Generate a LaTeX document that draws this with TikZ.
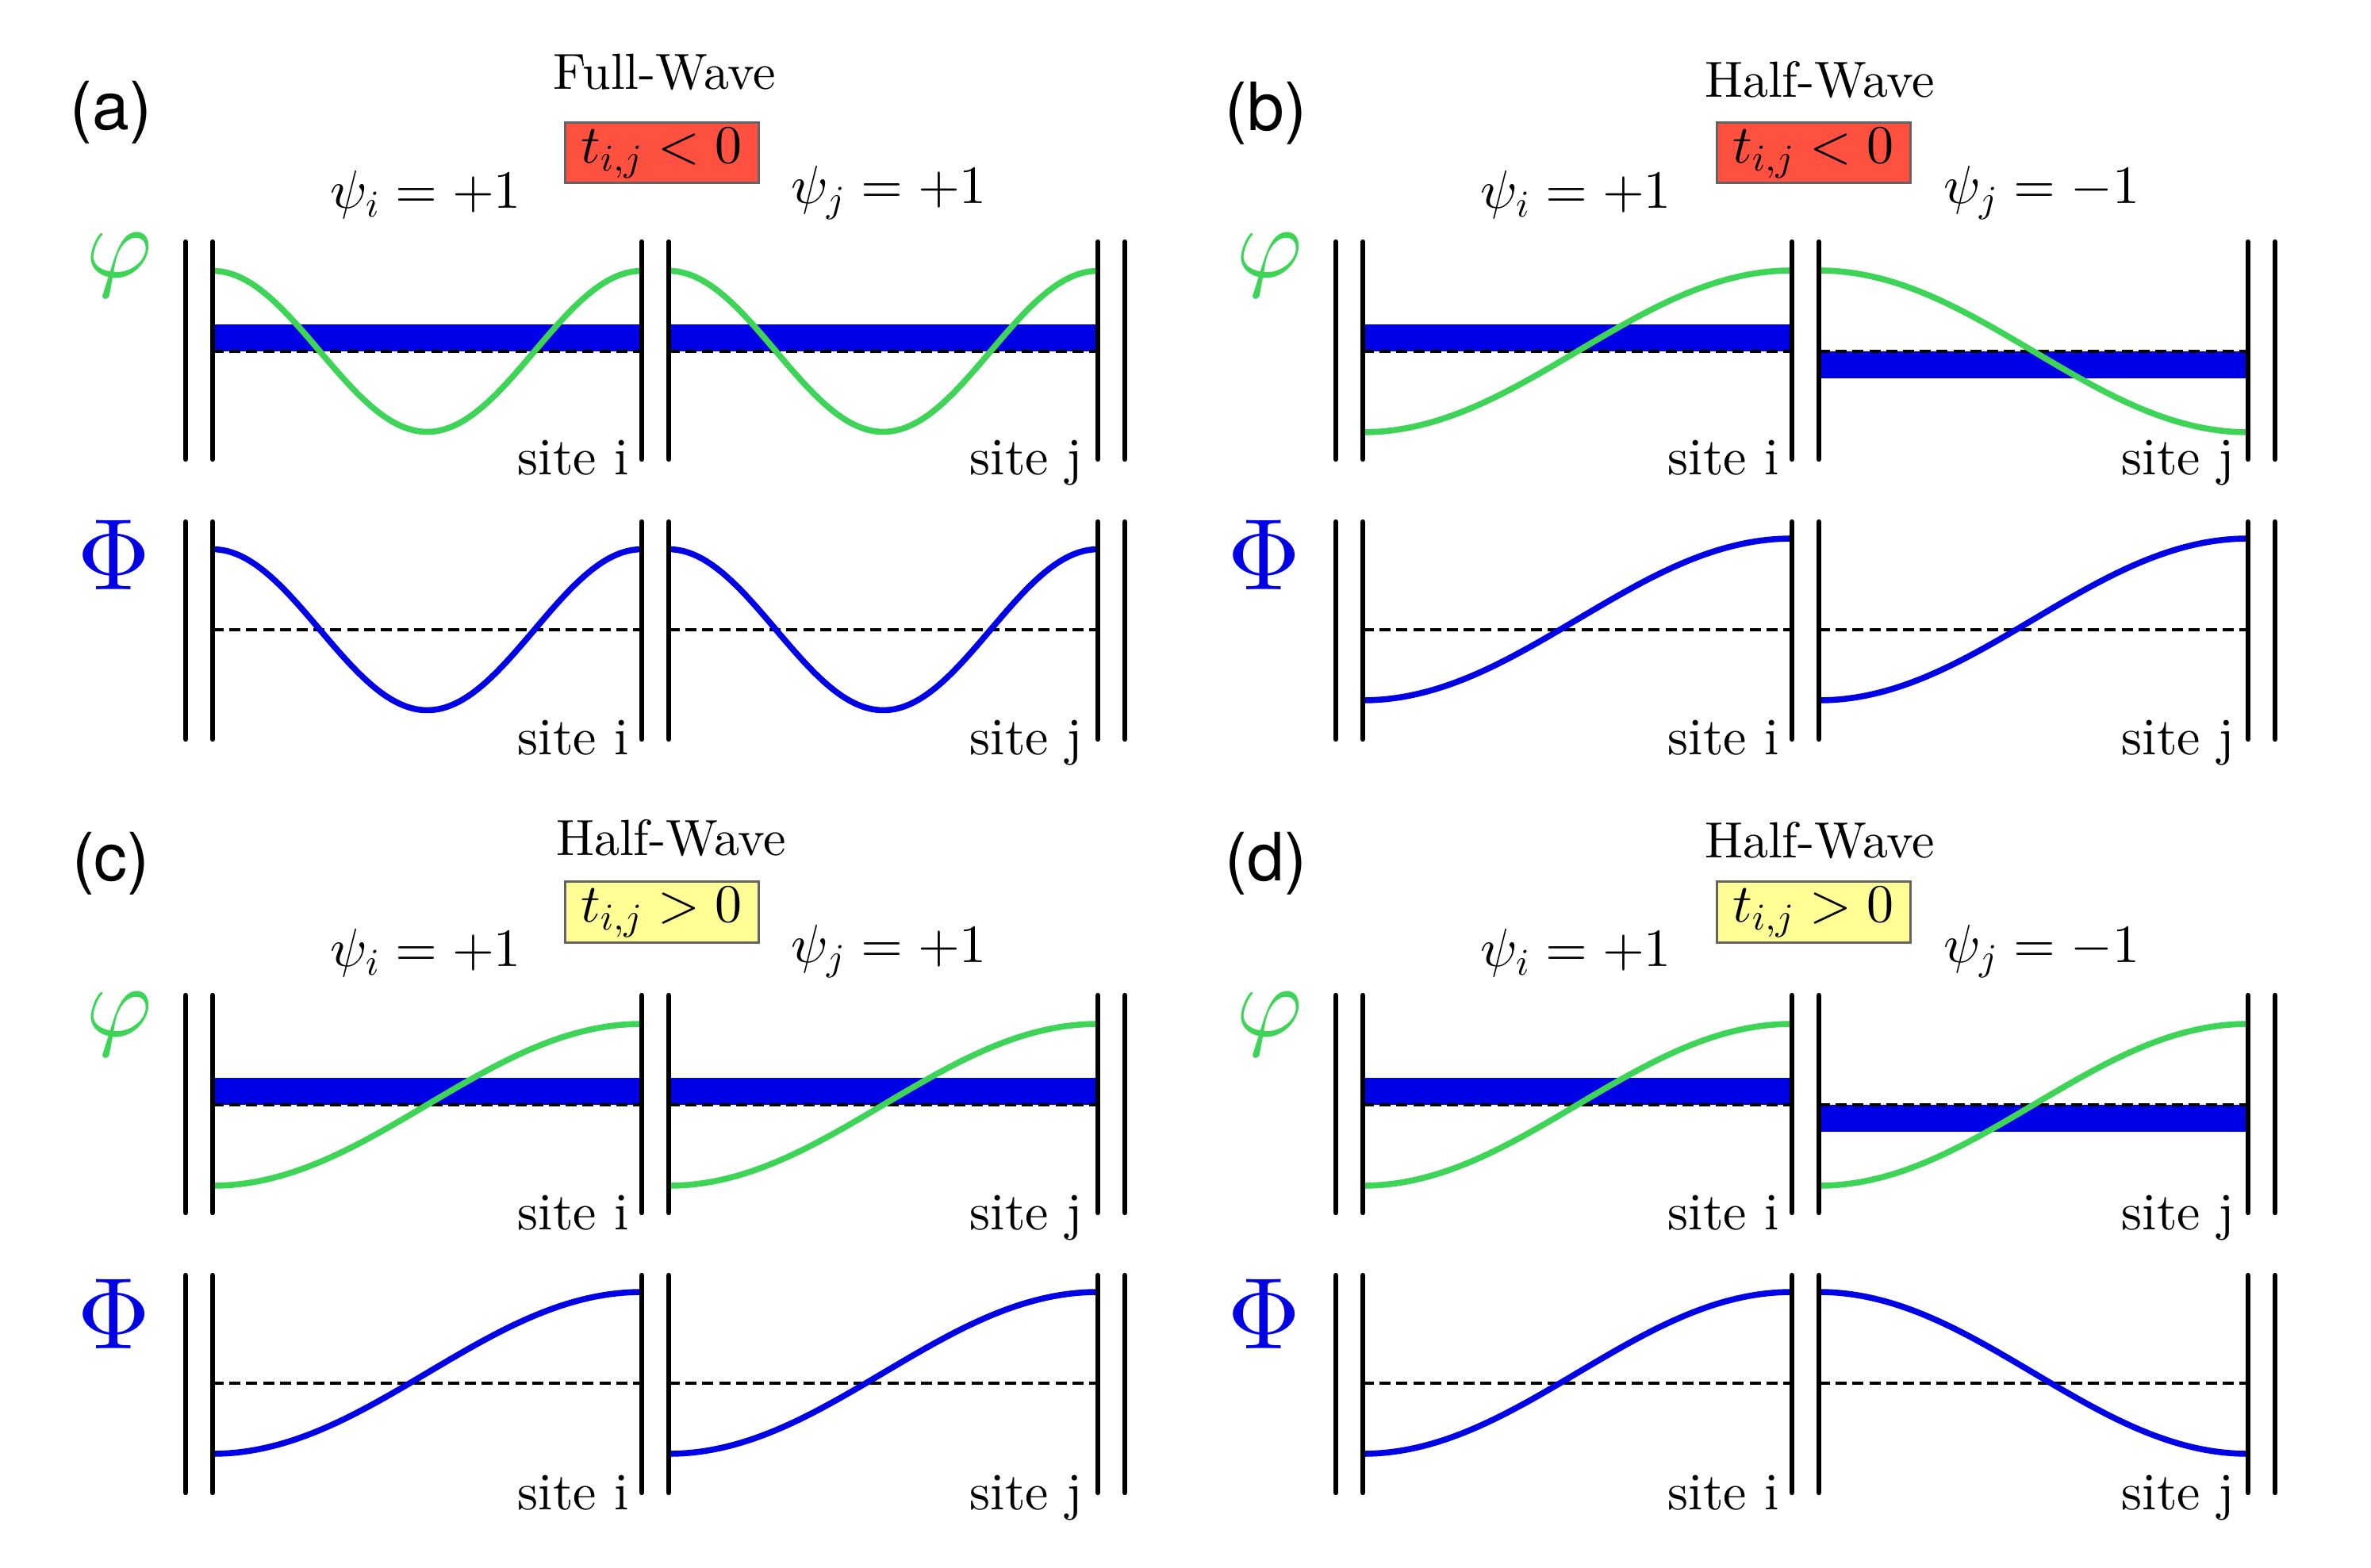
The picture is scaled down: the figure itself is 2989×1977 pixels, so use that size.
\documentclass[tikz,border=0pt]{standalone}
\usepackage{fontspec}
\newfontfamily\panelfont{TeX Gyre Heros}
\newfontfamily\tenrm{lmroman10-regular.otf}
\DeclareFontFamily{OML}{cmm}{\skewchar\font'177}
\DeclareFontShape{OML}{cmm}{m}{it}{<->cmmi10}{}
\DeclareFontFamily{OT1}{cmr}{\hyphenchar\font45}
\DeclareFontShape{OT1}{cmr}{m}{n}{<->cmr10}{}
\DeclareFontFamily{OMS}{cmsy}{\skewchar\font'60}
\DeclareFontShape{OMS}{cmsy}{m}{n}{<->cmsy10}{}
\definecolor{phigreen}{RGB}{62,212,88}
\definecolor{wblue}{RGB}{0,0,230}
\definecolor{boxred}{RGB}{255,80,64}
\definecolor{boxyellow}{RGB}{255,255,150}
\definecolor{boxgray}{RGB}{100,100,100}
\tikzset{
  wall/.style={line width=1.6pt, line cap=round},
  zeroline/.style={line width=1.1pt, dash pattern=on 3.5pt off 1.8pt},
  greencurve/.style={draw=phigreen, line width=1.9pt},
  bluecurve/.style={draw=wblue, line width=1.9pt},
  band/.style={fill=wblue, draw=none},
  titlelbl/.style={font=\tenrm\fontsize{16}{19}\selectfont, anchor=base, inner sep=0pt},
  mathlbl/.style={font=\fontsize{17}{20}\selectfont, anchor=base, inner sep=0pt},
  sitelbl/.style={font=\tenrm\fontsize{16.5}{20}\selectfont, anchor=base west, inner sep=0pt},
  panellbl/.style={font=\panelfont\fontsize{21}{25}\selectfont, inner sep=0pt},
  fieldlbl/.style={font=\fontsize{32}{38}\selectfont, anchor=base, inner sep=0pt},
  tbox/.style={draw=boxgray, line width=0.75pt, minimum width=61pt, minimum height=19pt, inner sep=0pt, font=\fontsize{17}{20}\selectfont},
}
\newcommand\wvFull[3]{\draw[#3] plot[domain=0:1,samples=90,variable=\t] ({#1+541*\t},{#2-101.5*cos(360*\t)});}
\newcommand\wvUp[3]{\draw[#3] plot[domain=0:1,samples=70,variable=\t] ({#1+541*\t},{#2+102*cos(180*\t)});}
\newcommand\wvDown[3]{\draw[#3] plot[domain=0:1,samples=70,variable=\t] ({#1+541*\t},{#2-102*cos(180*\t)});}
\newcommand\wvWalls{%
  \foreach \wx in {234,268,809,843,1384,1418}{%
    \draw[wall] (\wx,305) -- (\wx,579);
    \draw[wall] (\wx,658) -- (\wx,932);
  }}
\newcommand\wvZero{%
  \draw[zeroline] (268,443) -- (809,443);
  \draw[zeroline] (843,443) -- (1384,443);
  \draw[zeroline] (268,794) -- (809,794);
  \draw[zeroline] (843,794) -- (1384,794);}
\begin{document}
\begin{tikzpicture}[x=0.25pt,y=-0.25pt]
\useasboundingbox (0,0) rectangle (2989,1977);
% ---------------- panel (a)
\begin{scope}
  \fill[band] (268,409) rectangle (809,443);
  \fill[band] (843,409) rectangle (1384,443);
  \wvZero
  \wvFull{268}{443}{greencurve}
  \wvFull{843}{443}{greencurve}
  \wvFull{268}{794}{bluecurve}
  \wvFull{843}{794}{bluecurve}
  \wvWalls
\end{scope}
% ---------------- panel (b)
\begin{scope}[shift={(1450,0)}]
  \fill[band] (268,409) rectangle (809,443);
  \fill[band] (843,443) rectangle (1384,477);
  \wvZero
  \wvUp{268}{443}{greencurve}
  \wvDown{843}{443}{greencurve}
  \wvUp{268}{781}{bluecurve}
  \wvUp{843}{781}{bluecurve}
  \wvWalls
\end{scope}
% ---------------- panel (c)
\begin{scope}[shift={(0,950)}]
  \fill[band] (268,409) rectangle (809,443);
  \fill[band] (843,409) rectangle (1384,443);
  \wvZero
  \wvUp{268}{443}{greencurve}
  \wvUp{843}{443}{greencurve}
  \wvUp{268}{781}{bluecurve}
  \wvUp{843}{781}{bluecurve}
  \wvWalls
\end{scope}
% ---------------- panel (d)
\begin{scope}[shift={(1450,950)}]
  \fill[band] (268,409) rectangle (809,443);
  \fill[band] (843,443) rectangle (1384,477);
  \wvZero
  \wvUp{268}{443}{greencurve}
  \wvUp{843}{443}{greencurve}
  \wvUp{268}{781}{bluecurve}
  \wvDown{843}{781}{bluecurve}
  \wvWalls
\end{scope}
% ---------------- labels (a)
\node[panellbl] (la) at (140,142) {(a)};
\node[titlelbl] (ta) at (838,113) {Full-Wave};
\node[tbox, fill=boxred] (ba) at (834,193) {$t_{i,j}<0$};
\node[mathlbl] (pia) at (537,263) {$\psi_i=+1$};
\node[mathlbl] (pja) at (1121,257) {$\psi_j=+1$};
\node[fieldlbl, text=phigreen] (fa) at (150,350) {$\varphi$};
\node[fieldlbl, text=wblue] (Fa) at (144,744) {$\Phi$};
\node[sitelbl] (sia) at (652,599) {site i};
\node[sitelbl] (sja) at (1222,599) {site j};
\node[sitelbl] (sia2) at (652,952) {site i};
\node[sitelbl] (sja2) at (1222,952) {site j};
% ---------------- labels (b)
\node[panellbl] (lb) at (1596,143) {(b)};
\node[titlelbl] (tb) at (2294,123) {Half-Wave};
\node[tbox, fill=boxred] (bb) at (2286,193) {$t_{i,j}<0$};
\node[mathlbl] (pib) at (1987,263) {$\psi_i=+1$};
\node[mathlbl] (pjb) at (2574,257) {$\psi_j=-1$};
\node[fieldlbl, text=phigreen] (fb) at (1600,350) {$\varphi$};
\node[fieldlbl, text=wblue] (Fb) at (1594,744) {$\Phi$};
\node[sitelbl] (sib) at (2102,599) {site i};
\node[sitelbl] (sjb) at (2674,599) {site j};
\node[sitelbl] (sib2) at (2102,952) {site i};
\node[sitelbl] (sjb2) at (2674,952) {site j};
% ---------------- labels (c)
\node[panellbl] (lc) at (140,1089) {(c)};
\node[titlelbl] (tc) at (846,1078) {Half-Wave};
\node[tbox, fill=boxyellow] (bc) at (834,1150) {$t_{i,j}>0$};
\node[mathlbl] (pic) at (537,1219) {$\psi_i=+1$};
\node[mathlbl] (pjc) at (1121,1213) {$\psi_j=+1$};
\node[fieldlbl, text=phigreen] (fc) at (150,1306) {$\varphi$};
\node[fieldlbl, text=wblue] (Fc) at (144,1700) {$\Phi$};
\node[sitelbl] (sic) at (652,1550) {site i};
\node[sitelbl] (sjc) at (1222,1550) {site j};
\node[sitelbl] (sic2) at (652,1903) {site i};
\node[sitelbl] (sjc2) at (1222,1903) {site j};
% ---------------- labels (d)
\node[panellbl] (ld) at (1596,1089) {(d)};
\node[titlelbl] (td) at (2294,1081) {Half-Wave};
\node[tbox, fill=boxyellow] (bd) at (2286,1150) {$t_{i,j}>0$};
\node[mathlbl] (pid) at (1987,1219) {$\psi_i=+1$};
\node[mathlbl] (pjd) at (2574,1213) {$\psi_j=-1$};
\node[fieldlbl, text=phigreen] (fd) at (1600,1306) {$\varphi$};
\node[fieldlbl, text=wblue] (Fd) at (1594,1700) {$\Phi$};
\node[sitelbl] (sid) at (2102,1550) {site i};
\node[sitelbl] (sjd) at (2674,1550) {site j};
\node[sitelbl] (sid2) at (2102,1903) {site i};
\node[sitelbl] (sjd2) at (2674,1903) {site j};
\end{tikzpicture}
\end{document}
